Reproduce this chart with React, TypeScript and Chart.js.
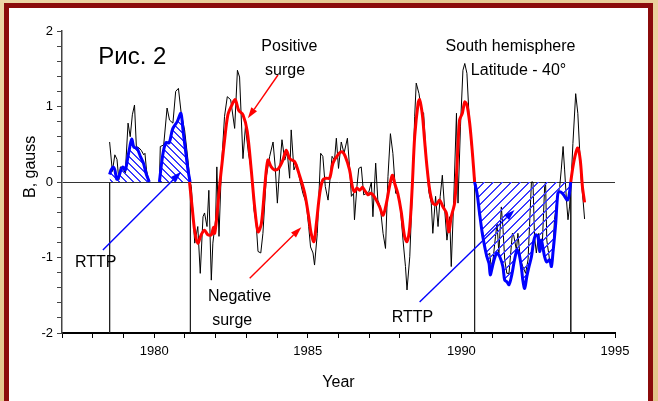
import React, { useEffect, useRef } from "react";
import { Chart, registerables } from "chart.js";
Chart.register(...registerables);

const FONT = "'Liberation Sans', Arial, Helvetica, sans-serif";

// Raw (monthly-ish) field values, black thin line
const rawYears = [
  1978.55, 1978.64, 1978.72, 1978.79, 1978.85, 1978.90, 1978.98, 1979.06, 1979.15, 1979.22,
  1979.29, 1979.36, 1979.42, 1979.51, 1979.58, 1979.66, 1979.70, 1979.75, 1979.83, 1980.00,
  1980.17, 1980.20, 1980.31, 1980.42, 1980.50, 1980.61, 1980.70, 1980.79, 1980.88, 1980.99,
  1981.10, 1981.17, 1981.21, 1981.32, 1981.42, 1981.50, 1981.59, 1981.64, 1981.72, 1981.78,
  1981.86, 1981.91, 1982.00, 1982.04, 1982.11, 1982.19, 1982.29, 1982.38, 1982.49, 1982.62,
  1982.71, 1982.78, 1982.89, 1982.97, 1983.07, 1983.18, 1983.25, 1983.32, 1983.38, 1983.47,
  1983.54, 1983.65, 1983.76, 1983.87, 1983.94, 1984.01, 1984.08, 1984.16, 1984.25, 1984.33,
  1984.41, 1984.46, 1984.55, 1984.63, 1984.73, 1984.84, 1984.95, 1985.03, 1985.09, 1985.17,
  1985.22, 1985.31, 1985.42, 1985.49, 1985.57, 1985.66, 1985.74, 1985.79, 1985.87, 1985.93,
  1986.00, 1986.09, 1986.18, 1986.29, 1986.36, 1986.42, 1986.49, 1986.52, 1986.60, 1986.66,
  1986.74, 1986.82, 1986.91, 1986.99, 1987.07, 1987.12, 1987.21, 1987.28, 1987.36, 1987.45,
  1987.53, 1987.61, 1987.69, 1987.77, 1987.86, 1987.93, 1988.01, 1988.10, 1988.18, 1988.23,
  1988.32, 1988.40, 1988.48, 1988.53, 1988.62, 1988.70, 1988.77, 1988.86, 1988.94, 1989.02,
  1989.07, 1989.16, 1989.24, 1989.31, 1989.38, 1989.45, 1989.53, 1989.62, 1989.67, 1989.75,
  1989.84, 1989.89, 1989.97, 1990.05, 1990.11, 1990.18, 1990.25, 1990.32, 1990.40, 1990.45,
  1990.51, 1990.59, 1990.70, 1990.81, 1990.92, 1990.97, 1991.03, 1991.11, 1991.16, 1991.22,
  1991.30, 1991.35, 1991.41, 1991.48, 1991.55, 1991.66, 1991.70, 1991.79, 1991.84, 1991.92,
  1992.00, 1992.09, 1992.17, 1992.28, 1992.33, 1992.38, 1992.44, 1992.52, 1992.57, 1992.63,
  1992.71, 1992.74, 1992.78, 1992.87, 1992.96, 1993.03, 1993.11, 1993.20, 1993.25, 1993.31,
  1993.36, 1993.42, 1993.47, 1993.52, 1993.57, 1993.63, 1993.72, 1993.79, 1993.85, 1993.90,
  1993.96, 1994.01,
];
const rawValues: (number | null)[] = [
  0.53, 0.14, 0.36, 0.30, 0.03, 0.20, 0.18, 0.12, 0.78, 0.60,
  0.89, 1.02, 0.47, 0.45, 0.42, 0.36, 0.38, 0.16, 0.0, null,
  0.0, 0.47, 0.49, 0.98, 0.82, 0.78, 1.20, 1.24, 0.91, 0.69,
  0.29, 0.0, -0.06, -0.81, -0.59, -1.21, -0.46, -0.41, -0.59, -0.11,
  -1.30, -0.81, -0.50, 0.20, -0.72, 0.20, 0.87, 1.13, 1.09, 0.71,
  1.48, 1.39, 0.31, 0.73, 0.38, 0.11, -0.37, -0.55, -0.92, -0.94,
  -0.68, 0.07, 0.34, 0.53, 0.20, -0.28, 0.16, 0.56, 0.29, 0.40,
  0.05, 0.69, 0.16, 0.25, 0.05, -0.15, -0.28, -0.59, -0.86, -0.94,
  -1.10, -0.68, 0.38, 0.34, -0.06, -0.24, 0.11, 0.34, 0.29, 0.58,
  0.18, 0.53, 0.38, 0.58, 0.20, -0.19, -0.15, -0.50, -0.06, 0.18,
  0.20, -0.17, -0.15, -0.13, 0.0, -0.46, 0.25, -0.24, -0.33, -0.68,
  -0.88, 0.07, 0.64, 0.38, -0.15, -0.15, -0.33, -0.77, -1.12, -1.43,
  -0.99, -0.15, 0.87, 1.31, 1.17, 0.95, 0.91, 0.29, -0.13, -0.28,
  -0.68, -0.19, -0.59, -0.19, 0.09, -0.33, -0.77, -0.46, -1.12, -0.24,
  0.91, -0.28, 0.73, 1.48, 1.57, 1.44, 0.87, 0.51, 0.16, 0.0,
  -0.11, -0.46, -0.68, -0.99, -0.94, -1.12, -1.03, -0.72, -0.55, -0.94,
  -0.33, -0.59, -1.03, -1.21, -1.21, -0.68, -0.70, -0.90, -0.68, -1.03,
  -1.12, -1.21, -1.03, 0.0, 0.0, -0.72, -0.94, -0.68, -0.90, -0.86,
  -0.06, 0.0, -0.77, -1.03, -1.08, -0.50, -0.24, -0.06, 0.16, 0.47,
  0.16, -0.24, -0.50, -0.33, 0.0, 0.51, 1.17, 0.91, 0.42, 0.03,
  -0.24, -0.49,
];

// Smoothed series (red), outside the RTTP intervals
const smoothYears = [
  1981.15, 1981.24, 1981.32, 1981.42, 1981.53, 1981.64, 1981.75, 1981.86, 1981.93, 1981.97,
  1982.04, 1982.13, 1982.21, 1982.29, 1982.40, 1982.53, 1982.64, 1982.75, 1982.89, 1983.03,
  1983.16, 1983.27, 1983.38, 1983.49, 1983.60, 1983.70, 1983.81, 1983.92, 1984.05, 1984.19,
  1984.30, 1984.41, 1984.57, 1984.73, 1984.90, 1985.03, 1985.11, 1985.20, 1985.28, 1985.39,
  1985.49, 1985.60, 1985.71, 1985.82, 1985.98, 1986.11, 1986.22, 1986.36, 1986.45, 1986.52,
  1986.60, 1986.69, 1986.78, 1986.85, 1986.96, 1987.04, 1987.12, 1987.23, 1987.34, 1987.45,
  1987.56, 1987.66, 1987.75, 1987.83, 1987.93, 1988.04, 1988.15, 1988.23, 1988.32, 1988.40,
  1988.48, 1988.59, 1988.64, 1988.73, 1988.80, 1988.88, 1988.97, 1989.07, 1989.18, 1989.29,
  1989.40, 1989.51, 1989.59, 1989.67, 1989.78, 1989.85, 1989.94, 1990.03, 1990.11, 1990.18,
  1990.27, 1990.36, 1990.43, 1992.00, 1993.56, 1993.63, 1993.72, 1993.79, 1993.87, 1993.94,
  1994.01,
];
const smoothValues: (number | null)[] = [
  0.0, -0.35, -0.65, -0.81, -0.70, -0.64, -0.70, -0.70, -0.60, -0.68,
  -0.45, -0.05, 0.25, 0.55, 0.89, 1.02, 1.09, 0.95, 0.89, 0.67,
  0.16, -0.33, -0.66, -0.55, -0.06, 0.29, 0.20, 0.16, 0.18, 0.29,
  0.42, 0.31, 0.27, 0.09, -0.15, -0.46, -0.68, -0.79, -0.55, -0.15,
  0.03, 0.05, 0.05, 0.25, 0.36, 0.40, 0.34, 0.16, -0.06, -0.13,
  -0.08, -0.11, -0.07, -0.11, -0.17, -0.15, -0.17, -0.24, -0.33, -0.44,
  -0.28, -0.06, 0.09, -0.02, -0.15, -0.39, -0.72, -0.79, -0.59, -0.06,
  0.60, 1.04, 1.09, 0.89, 0.56, 0.20, -0.11, -0.28, -0.30, -0.24,
  -0.33, -0.41, -0.66, -0.46, -0.28, 0.16, 0.82, 0.91, 1.06, 1.02,
  0.78, 0.38, 0.0, null, 0.0, 0.20, 0.38, 0.45, 0.29, -0.06,
  -0.27,
];

// Smoothed series inside the first RTTP interval (blue, positive)
const rttp1Years = [
  1978.55, 1978.60, 1978.66, 1978.72, 1978.78, 1978.84, 1978.92, 1978.98, 1979.06, 1979.14,
  1979.20, 1979.27, 1979.34, 1979.44, 1979.55, 1979.65, 1979.74, 1979.84, 1980.00, 1980.17,
  1980.28, 1980.38, 1980.49, 1980.60, 1980.75, 1980.87, 1980.94, 1981.02, 1981.10, 1981.17,
];
const rttp1Values: (number | null)[] = [
  0.10, 0.16, 0.20, 0.16, 0.04, 0.06, 0.16, 0.20, 0.16, 0.32,
  0.45, 0.57, 0.46, 0.45, 0.34, 0.25, 0.11, 0.0, null, 0.0,
  0.36, 0.52, 0.52, 0.70, 0.80, 0.91, 0.68, 0.42, 0.16, 0.0,
];

// Smoothed series inside the second RTTP interval (blue, negative)
const rttp2Years = [
  1990.43, 1990.51, 1990.59, 1990.68, 1990.76, 1990.83, 1990.90, 1990.94, 1991.01, 1991.08,
  1991.16, 1991.25, 1991.35, 1991.41, 1991.48, 1991.55, 1991.63, 1991.73, 1991.81, 1991.87,
  1991.95, 1992.00, 1992.06, 1992.13, 1992.20, 1992.28, 1992.35, 1992.42, 1992.49, 1992.55,
  1992.60, 1992.65, 1992.71, 1992.78, 1992.87, 1992.93, 1992.98, 1993.07, 1993.14, 1993.20,
  1993.29, 1993.36, 1993.44, 1993.50, 1993.56,
];
const rttp2Values = [
  0.0, -0.15, -0.41, -0.68, -0.86, -0.99, -1.08, -1.23, -1.12, -1.01,
  -0.94, -0.99, -1.12, -1.30, -1.32, -1.36, -1.25, -1.03, -0.90, -0.94,
  -1.12, -1.30, -1.41, -1.25, -1.12, -0.99, -0.79, -0.70, -0.72, -0.92,
  -0.77, -0.86, -0.99, -1.06, -1.03, -1.12, -0.94, -0.55, -0.15, -0.13,
  -0.15, -0.19, -0.24, -0.19, 0.0,
];

// RTTP interval boundaries (vertical lines from 0 down to the axis)
const boundaryYears = [1978.55, 1981.18, 1990.43, 1993.56];

const xMin = 1977;
const xMax = 1995;
const yMin = -2;
const yMax = 2;

// Text annotations (data coordinates)
const noteTexts = ["Рис. 2", "Positive", "surge", "South hemisphere", "Latitude - 40°", "RTTP", "Negative", "surge", "RTTP"];
const noteX = [1979.29, 1984.40, 1984.26, 1991.60, 1991.86, 1978.10, 1982.78, 1982.54, 1988.41];
const noteY = [1.645, 1.79, 1.47, 1.80, 1.47, -1.07, -1.52, -1.84, -1.80];
const noteSize = [24, 16, 16, 16, 16, 16, 16, 16, 16];

// Arrows (data coordinates): tail -> head
const arrowX1 = [1984.03, 1983.11, 1978.33, 1988.64];
const arrowY1 = [1.417, -1.276, -0.90, -1.59];
const arrowX2 = [1983.05, 1984.79, 1980.88, 1991.73];
const arrowY2 = [0.843, -0.60, 0.137, -0.37];
const arrowColors = ["#ff0000", "#ff0000", "#0000ff", "#0000ff"];

const xTitle = "Year";
const yTitle = "B, gauss";

function zip(xs: number[], ys: (number | null)[]) {
  return xs.map((x, i) => ({ x, y: ys[i] }));
}

function makeHatch(size: number, dir: "back" | "fwd", color: string) {
  const c = document.createElement("canvas");
  c.width = size;
  c.height = size;
  const g = c.getContext("2d")!;
  g.fillStyle = color;
  for (let i = 0; i < size; i++) {
    if (dir === "back") {
      g.fillRect(i, i, 1, 1);
      g.fillRect((i + 1) % size, i, 1, 1);
    } else {
      g.fillRect(i, size - 1 - i, 1, 1);
      g.fillRect((i + 1) % size, size - 1 - i, 1, 1);
    }
  }
  return g.createPattern(c, "repeat")!;
}

function drawArrow(ctx: CanvasRenderingContext2D, x1: number, y1: number, x2: number, y2: number, color: string) {
  const ang = Math.atan2(y2 - y1, x2 - x1);
  const headLen = 11;
  const headW = 7;
  const bx = x2 - headLen * Math.cos(ang);
  const by = y2 - headLen * Math.sin(ang);
  ctx.strokeStyle = color;
  ctx.fillStyle = color;
  ctx.lineWidth = 1.4;
  ctx.beginPath();
  ctx.moveTo(x1, y1);
  ctx.lineTo(bx, by);
  ctx.stroke();
  ctx.beginPath();
  ctx.moveTo(x2, y2);
  ctx.lineTo(bx + (headW / 2) * Math.sin(ang), by - (headW / 2) * Math.cos(ang));
  ctx.lineTo(bx - (headW / 2) * Math.sin(ang), by + (headW / 2) * Math.cos(ang));
  ctx.closePath();
  ctx.fill();
}

const overlayPlugin = {
  id: "overlay",
  afterDraw(chart: any) {
    const { ctx, chartArea } = chart;
    const xs = chart.scales.x;
    const ys = chart.scales.y;
    ctx.save();
    for (let i = 0; i < arrowX1.length; i++) {
      drawArrow(
        ctx,
        xs.getPixelForValue(arrowX1[i]),
        ys.getPixelForValue(arrowY1[i]),
        xs.getPixelForValue(arrowX2[i]),
        ys.getPixelForValue(arrowY2[i]),
        arrowColors[i]
      );
    }
    ctx.fillStyle = "#000";
    ctx.textAlign = "center";
    ctx.textBaseline = "middle";
    for (let i = 0; i < noteTexts.length; i++) {
      ctx.font = `${noteSize[i]}px ${FONT}`;
      ctx.fillText(noteTexts[i], xs.getPixelForValue(noteX[i]), ys.getPixelForValue(noteY[i]));
    }
    ctx.font = `16px ${FONT}`;
    ctx.fillText(xTitle, (chartArea.left + chartArea.right) / 2, chartArea.bottom + 50);
    ctx.translate(chartArea.left - 31, ys.getPixelForValue(0.2));
    ctx.rotate(-Math.PI / 2);
    ctx.fillText(yTitle, 0, 0);
    ctx.restore();
  },
};

export default function App() {
  const ref = useRef<HTMLCanvasElement>(null);
  useEffect(() => {
    const canvas = ref.current!;
    const hatch1 = makeHatch(7, "back", "#3a3aff");
    const hatch2 = makeHatch(9, "fwd", "#3a3aff");
    const datasets: any[] = [
      {
        label: "smoothed",
        data: zip(smoothYears, smoothValues),
        borderColor: "#ff0000",
        borderWidth: 3,
        pointRadius: 0,
        tension: 0.3,
        fill: false,
        spanGaps: false,
        order: 1,
        borderJoinStyle: "round",
      },
      {
        label: "RTTP 1",
        data: zip(rttp1Years, rttp1Values),
        borderColor: "#0000ff",
        borderWidth: 3,
        backgroundColor: hatch1,
        fill: "origin",
        pointRadius: 0,
        tension: 0.3,
        spanGaps: false,
        order: 2,
        borderJoinStyle: "round",
      },
      {
        label: "RTTP 2",
        data: zip(rttp2Years, rttp2Values),
        borderColor: "#0000ff",
        borderWidth: 3,
        backgroundColor: hatch2,
        fill: "origin",
        pointRadius: 0,
        tension: 0.3,
        order: 2,
        borderJoinStyle: "round",
      },
      {
        label: "raw",
        data: zip(rawYears, rawValues),
        borderColor: "#000000",
        borderWidth: 1,
        pointRadius: 0,
        tension: 0,
        spanGaps: false,
        fill: false,
        order: 3,
      },
      ...boundaryYears.map((b) => ({
        label: "boundary",
        data: [
          { x: b, y: 0 },
          { x: b, y: yMin },
        ],
        borderColor: "#222222",
        borderWidth: 1,
        pointRadius: 0,
        fill: false,
        order: 4,
      })),
    ];
    const chart = new Chart(canvas, {
      type: "line",
      data: { datasets },
      options: {
        animation: false,
        responsive: false,
        maintainAspectRatio: false,
        devicePixelRatio: 1,
        layout: { padding: { top: 31, right: 43, left: 0, bottom: 0 } },
        plugins: { legend: { display: false }, tooltip: { enabled: false } },
        scales: {
          x: {
            type: "linear",
            min: xMin,
            max: xMax,
            afterFit: (s: any) => {
              s.height = 68;
            },
            ticks: {
              stepSize: 1,
              autoSkip: false,
              maxRotation: 0,
              padding: 6,
              color: "#000",
              font: { family: FONT, size: 13 },
              callback: (v: any) => (Math.round(v) % 5 === 0 ? String(Math.round(v)) : ""),
            },
            grid: { drawOnChartArea: false, tickLength: 5, tickColor: "#000", lineWidth: 1 },
            border: { color: "#000", width: 2 },
          },
          y: {
            type: "linear",
            min: yMin,
            max: yMax,
            afterFit: (s: any) => {
              s.width = 62;
            },
            ticks: {
              stepSize: 0.2,
              autoSkip: false,
              padding: 4,
              color: "#000",
              font: { family: FONT, size: 13 },
              callback: (v: any) => (Math.abs(v - Math.round(v)) < 1e-6 ? String(Math.round(v)) : ""),
            },
            grid: {
              color: (c: any) => (c.tick && Math.abs(c.tick.value) < 1e-6 ? "#333" : "rgba(0,0,0,0)"),
              tickColor: "#444",
              tickLength: 5,
              lineWidth: 1,
            },
            border: { color: "#444", width: 1.5 },
          },
        },
      },
      plugins: [overlayPlugin],
    } as any);
    return () => chart.destroy();
  }, []);

  return (
    <div
      style={{
        position: "fixed",
        left: 0,
        top: 0,
        width: 658,
        height: 401,
        overflow: "hidden",
        background: "linear-gradient(135deg, #ecd6a6 0%, #e3c68d 40%, #ecd4a2 70%, #e2c489 100%)",
      }}
    >
      <div
        style={{
          position: "absolute",
          left: 4,
          top: 3,
          width: 639,
          height: 430,
          border: "5px solid #8b0b0b",
          background: "#ffffff",
        }}
      />
      <canvas
        ref={ref}
        width={658}
        height={401}
        style={{ position: "absolute", left: 0, top: 0, width: 658, height: 401 }}
      />
    </div>
  );
}
